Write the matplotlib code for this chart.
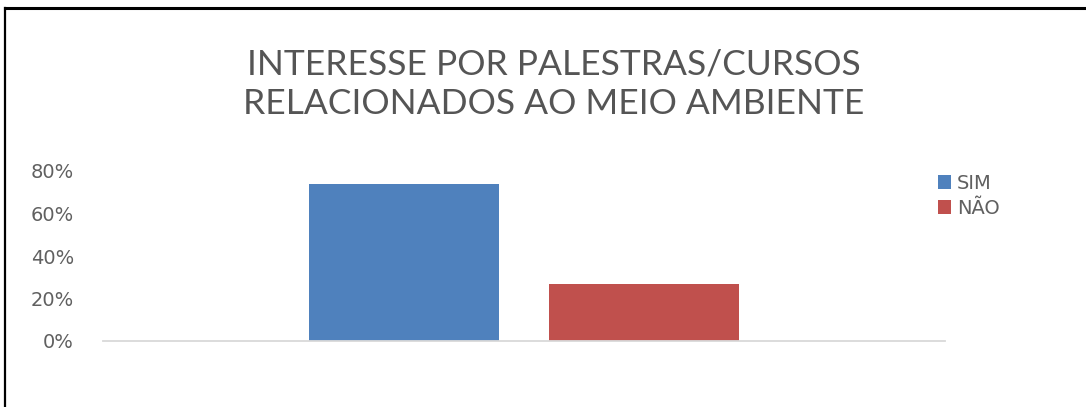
import matplotlib.pyplot as plt
from matplotlib.lines import Line2D
from matplotlib.ticker import PercentFormatter

# data
series = ["SIM", "NÃO"]
values = [0.74, 0.27]
colors = ["#4f81bd", "#c0504d"]
y_ticks = [0.0, 0.2, 0.4, 0.6, 0.8]
title = "INTERESSE POR PALESTRAS/CURSOS\nRELACIONADOS AO MEIO AMBIENTE"
caption = "Figura 10 – Interesse por Palestras/Cursos relacionados ao Meio Ambiente"

W, H = 1086, 407
fig = plt.figure(figsize=(W / 100, H / 100), dpi=100)
fig.patch.set_facecolor("white")

# plot area in pixels: x 103..945, y 171..341 (from top)
ax = fig.add_axes([103 / W, 1 - 341 / H, (945 - 103) / W, 170 / H])

offsets = [-0.1425, 0.1425]
bw = 0.2257
for name, v, c, off in zip(series, values, colors, offsets):
    ax.bar(off, v, width=bw, color=c, label=name)

ax.set_xlim(-0.5, 0.5)
ax.set_ylim(0, 0.8)
ax.set_yticks(y_ticks)
ax.yaxis.set_major_formatter(PercentFormatter(1.0, decimals=0))
ax.set_xticks([])
for s in ["top", "right", "left"]:
    ax.spines[s].set_visible(False)
ax.spines["bottom"].set_color("#d9d9d9")
ax.spines["bottom"].set_linewidth(1.3)
ax.tick_params(axis="y", length=0, pad=21, labelsize=14, labelcolor="#606060")

leg = ax.legend(loc="upper left", bbox_to_anchor=(0.982, 1.03), frameon=False,
                handlelength=0.7, handleheight=0.7, handletextpad=0.3,
                labelspacing=0.3, borderaxespad=0,
                prop={"family": "DejaVu Sans", "size": 14})
for t in leg.get_texts():
    t.set_color("#606060")

fig.text(0.5 * (246 + 862) / W, 1 - 84 / H, title, ha="center", va="center",
         fontsize=25.5, color="#555555", family="Lato", linespacing=1.3)

# caption clipped at the top of the picture, only descenders show
fig.text(72 / W, 1 + 8 / H, caption, ha="left", va="baseline",
         fontsize=22, fontweight="bold", family="Liberation Serif", color="black")

# frame (top and left edges of the page box)
fig.add_artist(Line2D([5 / W, 1], [1 - 8 / H, 1 - 8 / H], color="black", lw=2.2,
                      transform=fig.transFigure))
fig.add_artist(Line2D([5 / W, 5 / W], [0, 1 - 8 / H], color="black", lw=1.6,
                      transform=fig.transFigure))

fig.savefig("out.png", dpi=100)
